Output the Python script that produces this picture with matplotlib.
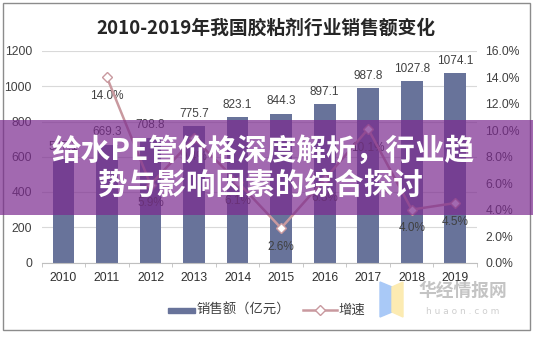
import matplotlib
matplotlib.use("agg")
import matplotlib.pyplot as plt
from matplotlib.patches import Rectangle, Polygon
from matplotlib.lines import Line2D
from matplotlib.ticker import FixedLocator

plt.rcParams["font.family"] = ["Liberation Sans", "Noto Sans CJK SC", "DejaVu Sans"]

years = ["2010", "2011", "2012", "2013", "2014", "2015", "2016", "2017", "2018", "2019"]
sales = [587.1, 669.3, 708.8, 775.7, 823.1, 844.3, 897.1, 987.8, 1027.8, 1074.1]
growth = [None, 14.0, 5.9, 9.4, 6.1, 2.6, 6.3, 10.1, 4.0, 4.5]
left_ticks = [0, 200, 400, 600, 800, 1000, 1200]
right_ticks = [0, 2, 4, 6, 8, 10, 12, 14, 16]

W, H = 533, 337
BAR = "#68739A"
LINE = "#C9999F"
TXT = "#404040"
CJK = ["Noto Sans CJK SC", "DejaVu Sans"]

fig = plt.figure(figsize=(W / 100, H / 100), dpi=100, facecolor="white")

x = list(range(len(years)))
ax = fig.add_axes([41.7 / W, 1 - 262.5 / H, (477 - 41.7) / W, (262.5 - 51) / H])
ax.bar(x, sales, width=0.5, color=BAR, zorder=2)
ax.set_xlim(-0.5, len(years) - 0.5)
ax.set_ylim(0, 1200)
ax.set_yticks(left_ticks)
ax.yaxis.grid(True, color="#D9D9D9", linewidth=0.8)
ax.set_axisbelow(True)
for s in ("top", "left", "right"):
    ax.spines[s].set_visible(False)
ax.spines["bottom"].set_color("#BFBFBF")
ax.tick_params(axis="y", length=0, pad=7, labelsize=8.7, labelcolor=TXT)
ax.set_xticks(x)
ax.set_xticklabels(years)
ax.tick_params(axis="x", which="major", length=0, pad=6.5, labelsize=8.7, labelcolor="#303030")
ax.xaxis.set_minor_locator(FixedLocator([i - 0.5 for i in range(len(years) + 1)]))
ax.tick_params(axis="x", which="minor", length=3, color="#BFBFBF", direction="out")

for xi, v in zip(x, sales):
    ax.annotate(f"{v:.1f}", (xi, v), xytext=(0, 4.5), textcoords="offset points",
                ha="center", va="bottom", fontsize=8.5, color=TXT, zorder=3)

# growth rate on the secondary axis
ax2 = ax.twinx()
ax2.set_ylim(0, 16)
ax2.set_yticks(right_ticks)
ax2.set_yticklabels([f"{t:.1f}%" for t in right_ticks])
for s in ax2.spines.values():
    s.set_visible(False)
ax2.tick_params(axis="y", length=0, pad=6, labelsize=8.7, labelcolor=TXT)
gx = [xi for xi, g in zip(x, growth) if g is not None]
gy = [g for g in growth if g is not None]
ax2.plot(gx, gy, color=LINE, linewidth=1.8, marker="D", markersize=5.5,
         markerfacecolor="white", markeredgecolor=LINE, markeredgewidth=1, zorder=4)
for xi, g in zip(gx, gy):
    ax2.annotate(f"{g:.1f}%", (xi, g), xytext=(0, -13.5), textcoords="offset points",
                 ha="center", va="center", fontsize=8.5, color=TXT)

# overlay layer in pixel coordinates
ov = fig.add_axes([0, 0, 1, 1], facecolor="none")
ov.set_xlim(0, W)
ov.set_ylim(H, 0)
ov.axis("off")

ov.add_patch(Rectangle((3, 3), 527, 327, fill=False, edgecolor="#8C8C8C", linewidth=1))
ov.text(266, 28, "2010-2019年我国胶粘剂行业销售额变化", family=CJK, fontsize=13.5,
        fontweight="bold", color="#262626", ha="center", va="center")

# legend
ov.add_patch(Rectangle((168, 307.5), 27, 5, color=BAR))
ov.text(197, 310, "销售额（亿元）", family=CJK, fontsize=9.6, color=TXT, ha="left", va="center")
ov.add_line(Line2D([303, 337], [310, 310], color=LINE, linewidth=1.8))
ov.plot([320], [310], marker="D", markersize=5.5, markerfacecolor="white",
        markeredgecolor=LINE, markeredgewidth=1)
ov.text(338, 310, "增速", family=CJK, fontsize=9.6, color=TXT, ha="left", va="center")

# watermark
ov.add_patch(Polygon([(380, 282), (392, 287), (392, 312), (380, 317)], color="#A9C9F7"))
ov.add_patch(Polygon([(392, 287), (403, 282), (403, 317), (392, 312)], color="#FCEBB2"))
ov.text(463, 291, "华经情报网", family=CJK, fontsize=12.8, fontweight="bold",
        color="#C4C4C4", ha="center", va="center")
ov.text(463, 312, "h u a o n . c o m", family=["DejaVu Sans"], fontsize=6.5,
        color="#CFCFCF", ha="center", va="center")

# banner
ov.add_patch(Rectangle((0, 120), W, 95, color="#7B2A8F", alpha=0.7, linewidth=0))
ov.text(263, 151, "给水PE管价格深度解析，行业趋", family=CJK, fontsize=21.3,
        fontweight="bold", color="white", ha="center", va="center")
ov.text(261, 185, "势与影响因素的综合探讨", family=CJK, fontsize=21.3,
        fontweight="bold", color="white", ha="center", va="center")

fig.savefig("out.png", dpi=100, facecolor="white")
